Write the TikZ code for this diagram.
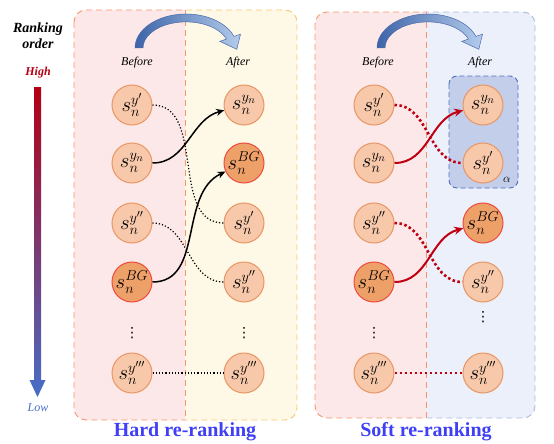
\documentclass[tikz,border=0pt]{standalone}
\usepackage{fontspec}
\setmainfont{Liberation Serif}
\newfontfamily\dejavu{DejaVu Sans}
\usetikzlibrary{arrows.meta}
\definecolor{pinkbg}{HTML}{FCE8E8}
\definecolor{yellowbg}{HTML}{FEF8E6}
\definecolor{bluebg}{HTML}{ECF0FA}
\definecolor{orangeline}{HTML}{F5966E}
\definecolor{yellowline}{HTML}{F8C86E}
\definecolor{blueline}{HTML}{AAB9E1}
\definecolor{alphafill}{HTML}{C3CEEB}
\definecolor{alphaline}{HTML}{506EBE}
\definecolor{nodefill}{HTML}{F7C8AA}
\definecolor{nodeline}{HTML}{E89664}
\definecolor{bgfill}{HTML}{EEA069}
\definecolor{bgline}{HTML}{EE4A3C}
\definecolor{softred}{HTML}{C00010}
\definecolor{rankred}{HTML}{B40014}
\definecolor{rankblue}{HTML}{466EC8}
\definecolor{labelblue}{HTML}{3F3FF5}
\definecolor{arrdark}{HTML}{3E64A8}
\definecolor{arrlight}{HTML}{B4CCEC}
\definecolor{arrline}{HTML}{4A6AA8}
\begin{document}
\begin{tikzpicture}[x=1pt,y=-1pt,
  snode/.style={circle, minimum size=40pt, inner sep=0pt, fill=nodefill, draw=nodeline, line width=1pt, font=\fontsize{21}{21}\selectfont},
  bgnode/.style={snode, fill=bgfill, draw=bgline},
  colhead/.style={font=\itshape\fontsize{12}{12}\selectfont},
  vdots/.style={font=\dejavu\fontsize{14}{14}\selectfont, inner sep=0pt},
  panelline/.style={dash pattern=on 6pt off 4pt, line width=0.9pt},
  harddot/.style={dotted, line width=1.2pt},
  hardarrow/.style={line width=1.5pt, -{Stealth[length=8pt,width=7pt]}},
  softdot/.style={softred, dash pattern=on 2.5pt off 2.5pt, line width=2.6pt},
  softarrow/.style={softred, line width=2pt, -{Stealth[length=9pt,width=8pt]}},
  bottomlabel/.style={font=\bfseries\fontsize{20}{20}\selectfont, text=labelblue}
]
\useasboundingbox (0,0) rectangle (554,444);

% ---------- Left panel background ----------
\begin{scope}
  \clip[rounded corners=12] (74,10) rectangle (297,420);
  \fill[pinkbg] (74,10) rectangle (185,420);
  \fill[yellowbg] (185,10) rectangle (297,420);
\end{scope}
\begin{scope}
  \clip (60,0) rectangle (185,444);
  \draw[panelline, orangeline, rounded corners=12] (74,10) rectangle (297,420);
\end{scope}
\begin{scope}
  \clip (185,0) rectangle (305,444);
  \draw[panelline, yellowline, rounded corners=12] (74,10) rectangle (297,420);
\end{scope}
\draw[panelline, orangeline] (185,10) -- (185,420);

% ---------- Right panel background ----------
\begin{scope}
  \clip[rounded corners=12] (315,12) rectangle (535,418);
  \fill[pinkbg] (315,12) rectangle (426,418);
  \fill[bluebg] (426,12) rectangle (535,418);
\end{scope}
\begin{scope}
  \clip (305,0) rectangle (426,444);
  \draw[panelline, orangeline, rounded corners=12] (315,12) rectangle (535,418);
\end{scope}
\begin{scope}
  \clip (426,0) rectangle (554,444);
  \draw[panelline, blueline, rounded corners=12] (315,12) rectangle (535,418);
\end{scope}
\draw[panelline, orangeline] (426,12) -- (426,418);

% alpha box
\draw[alphaline, fill=alphafill, dash pattern=on 5pt off 3pt, line width=0.9pt, rounded corners=8] (449,76) rectangle (518,188);
\node[font=\fontsize{12}{12}\selectfont] (alpha) at (507,180) {$\alpha$};

% ---------- Top curved arrows ----------
\foreach \cx in {186,428} {
  \begin{scope}[shift={(\cx,48)}]
    \shade[left color=arrdark, right color=arrlight, draw=arrline, line width=0.5pt]
      (-51,0) arc[start angle=180, end angle=340, x radius=51, y radius=34]
      -- (54.5,-13.8) -- (50.8,1.3) -- (33.8,-6.6) -- (40.4,-9.0)
      arc[start angle=340, end angle=180, x radius=43, y radius=26] -- cycle;
  \end{scope}
}

% ---------- Ranking order ----------
\node[font=\bfseries\itshape\fontsize{14}{16}\selectfont, align=center] (rank) at (38,36) {Ranking\\order};
\node[font=\bfseries\itshape\fontsize{12}{12}\selectfont, text=rankred] (high) at (38,73) {High};
\node[font=\itshape\fontsize{12}{12}\selectfont, text=rankblue] (low) at (38,408) {Low};
\shade[top color=rankred, bottom color=rankblue]
  (34,87) -- (41,87) -- (41,380) -- (45.5,380) -- (37.5,397) -- (29.5,380) -- (34,380) -- cycle;

% ---------- Column headers ----------
\node[colhead] (hbefore) at (137,63) {Before};
\node[colhead] (hafter) at (238,63) {After};
\node[colhead] (sbefore) at (378,63) {Before};
\node[colhead] (safter) at (480,63) {After};

% ---------- Hard re-ranking nodes ----------
\node[snode] (hb1) at (132,105) {$s_n^{y'}$};
\node[snode] (hb2) at (132,163) {$s_n^{y_n}$};
\node[snode] (hb3) at (132,223) {$s_n^{y''}$};
\node[bgnode] (hb4) at (132,282) {$s_n^{BG}$};
\node[vdots] (hbd) at (132,333) {⋮};
\node[snode] (hb5) at (132,373) {$s_n^{y'''}$};

\node[snode] (ha1) at (244,105) {$s_n^{y_n}$};
\node[bgnode] (ha2) at (244,163) {$s_n^{BG}$};
\node[snode] (ha3) at (244,223) {$s_n^{y'}$};
\node[snode] (ha4) at (244,282) {$s_n^{y''}$};
\node[vdots] (had) at (244,333) {⋮};
\node[snode] (ha5) at (244,373) {$s_n^{y'''}$};

\draw[harddot] (hb1) to[out=0,in=180] (ha3);
\draw[harddot] (hb3) to[out=0,in=180] (ha4);
\draw[harddot] (hb5) -- (ha5);
\draw[hardarrow] (hb2) to[out=0,in=195] (ha1);
\draw[hardarrow] (hb4) to[out=0,in=205] (ha2);

% ---------- Soft re-ranking nodes ----------
\node[snode] (sb1) at (374,105) {$s_n^{y'}$};
\node[snode] (sb2) at (374,163) {$s_n^{y_n}$};
\node[snode] (sb3) at (374,223) {$s_n^{y''}$};
\node[bgnode] (sb4) at (374,282) {$s_n^{BG}$};
\node[vdots] (sbd) at (374,333) {⋮};
\node[snode] (sb5) at (374,373) {$s_n^{y'''}$};

\node[snode] (sa1) at (483,105) {$s_n^{y_n}$};
\node[snode] (sa2) at (483,163) {$s_n^{y'}$};
\node[bgnode] (sa3) at (483,223) {$s_n^{BG}$};
\node[snode] (sa4) at (483,282) {$s_n^{y''}$};
\node[vdots] (sad) at (483,317) {⋮};
\node[snode] (sa5) at (483,373) {$s_n^{y'''}$};

\draw[softdot] (sb1) to[out=0,in=180] (sa2);
\draw[softdot] (sb3) to[out=0,in=180] (sa4);
\draw[softdot] (sb5) -- (sa5);
\draw[softarrow] (sb2) to[out=0,in=195] (sa1);
\draw[softarrow] (sb4) to[out=0,in=195] (sa3);

% ---------- Bottom labels ----------
\node[bottomlabel] (hardlabel) at (185,432) {Hard re-ranking};
\node[bottomlabel] (softlabel) at (426,432) {Soft re-ranking};
\end{tikzpicture}
\end{document}
